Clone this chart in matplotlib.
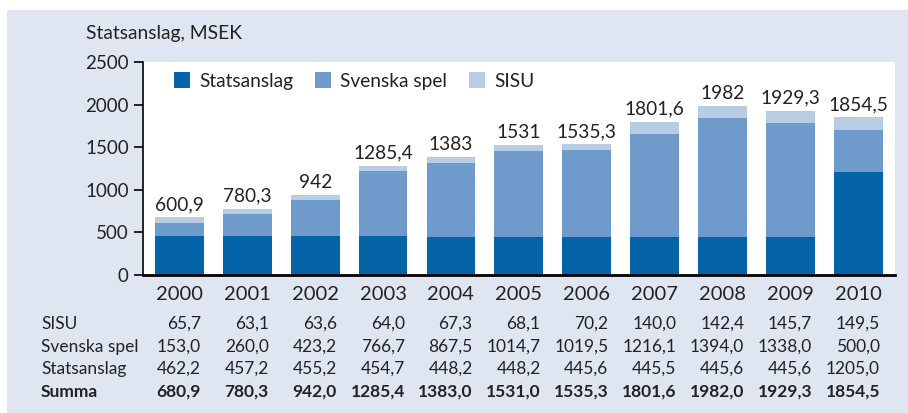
import matplotlib
matplotlib.use("Agg")
import matplotlib.pyplot as plt
from matplotlib.patches import Rectangle
from matplotlib.transforms import blended_transform_factory

plt.rcParams['font.family'] = ['Lato', 'DejaVu Sans']

years = ['2000', '2001', '2002', '2003', '2004', '2005', '2006', '2007', '2008', '2009', '2010']
sisu = [65.7, 63.1, 63.6, 64.0, 67.3, 68.1, 70.2, 140.0, 142.4, 145.7, 149.5]
svenska_spel = [153.0, 260.0, 423.2, 766.7, 867.5, 1014.7, 1019.5, 1216.1, 1394.0, 1338.0, 500.0]
statsanslag = [462.2, 457.2, 455.2, 454.7, 448.2, 448.2, 445.6, 445.5, 445.6, 445.6, 1205.0]
summa = [680.9, 780.3, 942.0, 1285.4, 1383.0, 1531.0, 1535.3, 1801.6, 1982.0, 1929.3, 1854.5]
bar_labels = ['600,9', '780,3', '942', '1285,4', '1383', '1531', '1535,3', '1801,6', '1982', '1929,3', '1854,5']
yticks = [0, 500, 1000, 1500, 2000, 2500]

c_stat = '#0563a8'
c_spel = '#6f9bcc'
c_sisu = '#b8cce4'
panel = '#dfe6f2'
txt = '#222222'

W, H = 908, 413
fig = plt.figure(figsize=(W / 100, H / 100), dpi=100)
fig.patch.set_facecolor('white')
fig.patches.append(Rectangle((7 / W, 0), 1 - 7 / W, 1 - 10 / H, transform=fig.transFigure,
                             facecolor=panel, edgecolor='none', zorder=-10))

ax = fig.add_axes([142.7 / W, 1 - 275 / H, (895 - 142.7) / W, (275 - 62.3) / H])
ax.set_facecolor('white')

x = list(range(len(years)))
bw = 0.72
ax.bar(x, statsanslag, bw, color=c_stat, label='Statsanslag', zorder=2)
bottom3 = [a + b for a, b in zip(statsanslag, svenska_spel)]
ax.bar(x, svenska_spel, bw, bottom=statsanslag, color=c_spel, label='Svenska spel', zorder=2)
ax.bar(x, sisu, bw, bottom=bottom3, color=c_sisu, label='SISU', zorder=2)

tops = [a + b for a, b in zip(bottom3, sisu)]
for xi, t, lab in zip(x, tops, bar_labels):
    ax.annotate(lab, (xi, t), xytext=(0, 3), textcoords='offset points',
                ha='center', va='bottom', fontsize=13.8, color=txt)

ax.set_xlim(-0.54, 10.54)
ax.set_ylim(0, 2500)
ax.set_yticks(yticks)
ax.set_yticklabels([str(v) for v in yticks], fontsize=13.5, color=txt)
ax.tick_params(axis='y', direction='out', length=6.5, width=1.2, pad=3.5, color='black')
ax.set_xticks([])
for s in ['top', 'right']:
    ax.spines[s].set_visible(False)
ax.spines['left'].set_linewidth(1.2)
ax.spines['bottom'].set_linewidth(2.0)

leg = ax.legend(loc='center left', bbox_to_anchor=((174 - 142.7) / (895 - 142.7), (275 - 81) / (275 - 62.3)),
                ncol=3, frameon=False, fontsize=13.8, handlelength=0.85, handleheight=0.85,
                handletextpad=0.45, columnspacing=1.15, borderpad=0, borderaxespad=0)
for t in leg.get_texts():
    t.set_color(txt)

fig.text(86 / W, 1 - 33 / H, 'Statsanslag, MSEK', ha='left', va='center', fontsize=13.9, color=txt)

trans = blended_transform_factory(ax.transData, fig.transFigure)
for xi, yr in zip(x, years):
    ax.text(xi, 1 - 294 / H, yr, transform=trans, ha='center', va='center', fontsize=14.5, color=txt)

rows = [('SISU', sisu, 'normal'), ('Svenska spel', svenska_spel, 'normal'),
        ('Statsanslag', statsanslag, 'normal'), ('Summa', summa, 'bold')]
row_y = [324, 346.7, 369, 391.7]
for (name, vals, wt), yy in zip(rows, row_y):
    fig.text(41 / W, 1 - yy / H, name, ha='left', va='center', fontsize=12.5, color=txt, fontweight=wt)
    for xi, v in zip(x, vals):
        ax.text(xi + 0.32, 1 - yy / H, f'{v:.1f}'.replace('.', ','), transform=trans,
                ha='right', va='center', fontsize=12.5, color=txt, fontweight=wt)

fig.savefig('out.png', dpi=100)
